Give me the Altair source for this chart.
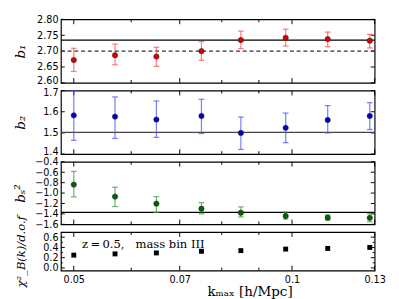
import altair as alt
import pandas as pd

# ---- data ----
k = [0.05, 0.057, 0.065, 0.075, 0.085, 0.098, 0.112, 0.128]

b1 = [2.672, 2.687, 2.683, 2.700, 2.735, 2.742, 2.738, 2.733]
b1_lo = [2.636, 2.657, 2.652, 2.671, 2.708, 2.716, 2.714, 2.710]
b1_hi = [2.709, 2.722, 2.712, 2.730, 2.763, 2.769, 2.760, 2.753]

b2 = [1.583, 1.577, 1.563, 1.580, 1.500, 1.524, 1.561, 1.580]
b2_lo = [1.465, 1.474, 1.479, 1.497, 1.422, 1.454, 1.500, 1.516]
b2_hi = [1.700, 1.670, 1.651, 1.659, 1.575, 1.594, 1.629, 1.643]

bs2 = [-0.838, -1.068, -1.203, -1.300, -1.377, -1.440, -1.472, -1.475]
bs2_lo = [-1.073, -1.259, -1.370, -1.400, -1.457, -1.500, -1.520, -1.550]
bs2_hi = [-0.585, -0.888, -1.068, -1.185, -1.265, -1.365, -1.420, -1.395]

chi2 = [0.250, 0.274, 0.293, 0.325, 0.338, 0.368, 0.381, 0.400]

b1_ref = [2.735]
b1_dashed = [2.70]
b2_ref = [1.503]
bs2_ref = [-1.37]

x_major = [0.05, 0.07, 0.1, 0.13]
x_minor = [0.06, 0.08, 0.09]

NB = "\u00a0"
annotation = "z" + "\u2009=\u2009" + "0.5," + NB * 3 + "mass" + NB + "bin" + NB + "III"
x_title = "kₘₐₓ" + NB + "[h/Mpc]"

# ---- styling ----
FONT = "DejaVu Sans"
SERIF = "DejaVu Serif"
W = 326
xscale = alt.Scale(type="log", domain=[0.048, 0.13], nice=False)

df = pd.DataFrame({
    "k": k, "b1": b1, "b1_lo": b1_lo, "b1_hi": b1_hi,
    "b2": b2, "b2_lo": b2_lo, "b2_hi": b2_hi,
    "bs2": bs2, "bs2_lo": bs2_lo, "bs2_hi": bs2_hi,
    "chi2": chi2,
})

xaxis_bottom = alt.Axis(
    values=x_major, format="~g", ticks=False, domain=False, grid=False,
    labelFont=FONT, labelFontSize=10, labelColor="black", labelPadding=4,
    labelFlush=False, labelOverlap=False,
    title=x_title, titleFont=SERIF, titleFontSize=14,
    titleFontWeight="normal", titleColor="black", titleX=196, titleY=22,
    titleAlign="center", titleBaseline="middle",
)


def panel(H, ydom, yvals, yfmt, ytitle, ytick_major, ytick_minor, data_layers,
          bottom=False, tsize=14, nudge_top=0, nudge_bottom=0):
    yscale = alt.Scale(domain=ydom, nice=False, zero=False)
    lo, hi = ydom
    eps = 1e-6
    offset_expr = (f"datum.value <= {lo + eps} ? {-nudge_bottom} : "
                   f"(datum.value >= {hi - eps} ? {nudge_top} : 0)")
    yax = alt.Axis(
        title=ytitle, values=yvals, format=yfmt, ticks=False, domain=False,
        grid=False, labelFont=FONT, labelFontSize=10, labelColor="black",
        labelPadding=3, labelOverlap=False, labelFlush=False,
        labelOffset=alt.ExprRef(offset_expr),
        titleFont=SERIF, titleFontStyle="italic",
        titleFontSize=tsize, titleFontWeight="normal", titleColor="black",
        titleX=-35, titleY=H / 2, titleAngle=270, titleBaseline="bottom",
        titleAlign="center",
    )

    def X(f):
        return alt.X(f, type="quantitative", scale=xscale,
                     axis=xaxis_bottom if bottom else None,
                     title=x_title)

    def Y(f):
        return alt.Y(f, type="quantitative", scale=yscale, axis=yax,
                     title=ytitle)

    layers = []
    # inward ticks on x (top and bottom)
    for vals, L in ((x_major, 5), (x_minor, 3)):
        tdf = pd.DataFrame({"v": vals})
        layers.append(alt.Chart(tdf).mark_rule(color="black", strokeWidth=1).encode(
            x=X("v"), y=alt.value(0), y2=alt.value(L)))
        layers.append(alt.Chart(tdf).mark_rule(color="black", strokeWidth=1).encode(
            x=X("v"), y=alt.value(H - L), y2=alt.value(H)))
    # inward ticks on y (left and right)
    for vals, L in ((ytick_major, 4), (ytick_minor, 2)):
        if not vals:
            continue
        tdf = pd.DataFrame({"v": vals})
        layers.append(alt.Chart(tdf).mark_rule(color="black", strokeWidth=1).encode(
            y=Y("v"), x=alt.value(0), x2=alt.value(L)))
        layers.append(alt.Chart(tdf).mark_rule(color="black", strokeWidth=1).encode(
            y=Y("v"), x=alt.value(W - L), x2=alt.value(W)))
    layers += data_layers(X, Y)
    return alt.layer(*layers).properties(width=W, height=H)


def hline(X, Y, vals, dash=None, color="black"):
    kw = {"color": color, "strokeWidth": 1.3}
    if dash:
        kw["strokeDash"] = dash
    return alt.Chart(pd.DataFrame({"v": vals})).mark_rule(**kw).encode(y=Y("v"))


def err_points(X, Y, mid, lo, hi, pcolor, ecolor):
    base = alt.Chart(df)
    eb = base.mark_errorbar(ticks=True, size=6, thickness=1.3,
                            color=ecolor, opacity=0.7).encode(
        x=X("k"), y=Y(lo), y2=alt.Y2(hi))
    pts = base.mark_circle(size=30, color=pcolor, opacity=1,
                           stroke="#222222", strokeWidth=0.6).encode(
        x=X("k"), y=Y(mid))
    return [eb, pts]


p1 = panel(
    66, [2.60, 2.80], [2.60, 2.65, 2.70, 2.75, 2.80], ".2f", "b₁",
    [2.60, 2.65, 2.70, 2.75, 2.80], [],
    lambda X, Y: [hline(X, Y, b1_ref), hline(X, Y, b1_dashed, dash=[4, 3], color="#333333")]
    + err_points(X, Y, "b1", "b1_lo", "b1_hi", "#dd0000", "#ff4d4d"),
    nudge_bottom=2,
)

p2 = panel(
    66, [1.40, 1.70], [1.4, 1.5, 1.6, 1.7], ".1f", "b₂",
    [1.4, 1.5, 1.6, 1.7], [],
    lambda X, Y: [hline(X, Y, b2_ref, color="#444444")]
    + err_points(X, Y, "b2", "b2_lo", "b2_hi", "#0000cc", "#4d4dff"),
    nudge_top=2, nudge_bottom=3,
)

p3 = panel(
    65, [-1.6, -0.4], [-1.6, -1.4, -1.2, -1.0, -0.8, -0.6, -0.4], ".1f", "bₛ²",
    [-1.6, -1.4, -1.2, -1.0, -0.8, -0.6, -0.4], [],
    lambda X, Y: [hline(X, Y, bs2_ref)]
    + err_points(X, Y, "bs2", "bs2_lo", "bs2_hi", "#006400", "#3c9a3c"),
)


def chi_layers(X, Y):
    sq = alt.Chart(df).mark_square(size=26, color="black", opacity=1).encode(
        x=X("k"), y=Y("chi2"))
    txt = alt.Chart(pd.DataFrame({"t": [annotation]})).mark_text(
        align="left", baseline="middle", font=SERIF, fontSize=12,
        color="black").encode(text="t:N", x=alt.value(22), y=alt.value(13))
    return [sq, txt]


p4 = panel(
    40, [-0.05, 0.70], [0.0, 0.2, 0.4, 0.6], ".1f", "χ²_B(k)/d.o.f",
    [0.0, 0.2, 0.4, 0.6], [0.1, 0.3, 0.5],
    chi_layers, bottom=True, tsize=12,
)

chart = alt.vconcat(p1, p2, p3, p4, spacing=8, bounds="flush").properties(
    padding={"left": 5, "top": 0, "right": 5, "bottom": 0},
    background="white",
).configure_view(stroke="black", strokeWidth=1.2)

chart.save("out.html", embed_options={"renderer": "svg", "actions": False})
